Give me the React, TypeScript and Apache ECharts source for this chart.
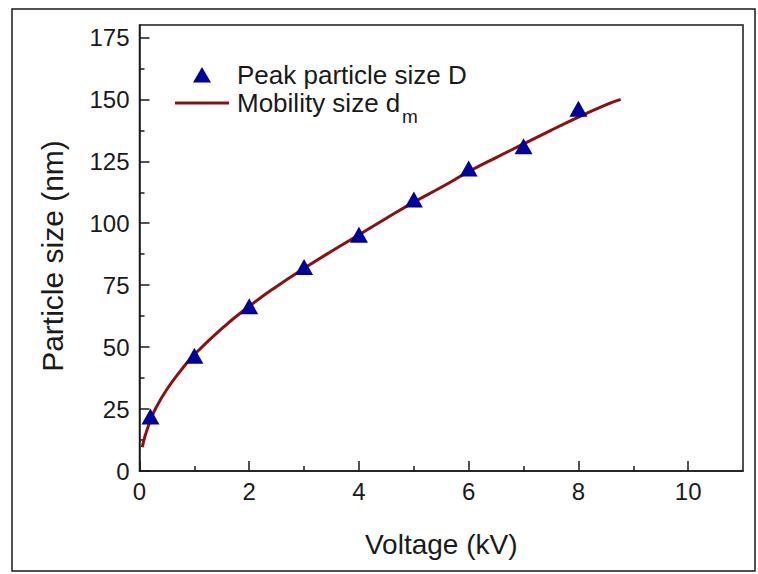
import React, { useEffect, useRef } from "react";
import * as echarts from "echarts";

// Measured points (triangles)
const voltage = [0.2, 1, 2, 3, 4, 5, 6, 7, 8];
const peakSize = [22, 46.5, 66.5, 82.3, 95.3, 109.6, 122.1, 131.1, 146.2];

// Mobility size curve
const curveVoltage = [0.05, 0.1, 0.2, 0.3, 0.5, 0.75, 1, 1.5, 2, 2.5, 3, 3.5, 4, 4.5, 5, 5.5, 6, 6.5, 7, 7.5, 8, 8.5, 8.77];
const mobilitySize = [9.6, 14, 20.5, 25.5, 33, 40.5, 47, 57.5, 66.5, 74.5, 81.8, 88.7, 95.3, 102, 108.5, 114.5, 120.8, 126.5, 132, 137.5, 142.8, 147.8, 150];

const xMajorTicks = [0, 2, 4, 6, 8, 10];
const xMinorTicks = [1, 3, 5, 7, 9];
const yMajorTicks = [0, 25, 50, 75, 100, 125, 150, 175];
const yMinorTicks = [12.5, 37.5, 62.5, 87.5, 112.5, 137.5, 162.5];

const FONT = "'Liberation Sans', Arial, sans-serif";
const INK = "#1a1a1a";
const BLUE = "#00009a";
const RED = "#8b1010";

export default function App() {
  const ref = useRef<HTMLDivElement>(null);
  useEffect(() => {
    if (!ref.current) return;
    const chart = echarts.init(ref.current, undefined, { renderer: "svg" });
    const axisLine = { show: true, lineStyle: { color: INK, width: 1.5 } };
    const tickStyle = { color: INK, width: 1.5 };
    chart.setOption({
      animation: false,
      backgroundColor: "#ffffff",
      grid: {
        left: 139.5,
        right: 15,
        top: 25,
        bottom: 103,
        show: true,
        borderColor: INK,
        borderWidth: 1.5,
        backgroundColor: "transparent",
      },
      xAxis: [
        {
          type: "value",
          min: 0,
          max: 11,
          position: "bottom",
          axisLine,
          splitLine: { show: false },
          axisTick: { show: true, inside: true, length: 10, lineStyle: tickStyle, customValues: xMajorTicks },
          axisLabel: { customValues: xMajorTicks, fontSize: 24, color: INK, fontFamily: FONT, margin: 8 },
          name: "Voltage (kV)",
          nameLocation: "middle",
          nameGap: 59,
          nameTextStyle: { fontSize: 28, color: INK, fontFamily: FONT },
        },
        {
          type: "value",
          min: 0,
          max: 11,
          position: "bottom",
          axisLine: { show: false },
          splitLine: { show: false },
          axisTick: { show: true, inside: true, length: 5, lineStyle: tickStyle, customValues: xMinorTicks },
          axisLabel: { show: false },
        },
      ],
      yAxis: [
        {
          type: "value",
          min: 0,
          max: 180,
          position: "left",
          axisLine,
          splitLine: { show: false },
          axisTick: { show: true, inside: true, length: 10, lineStyle: tickStyle, customValues: yMajorTicks },
          axisLabel: { customValues: yMajorTicks, fontSize: 24, color: INK, fontFamily: FONT, margin: 10 },
        },
        {
          type: "value",
          min: 0,
          max: 180,
          position: "left",
          axisLine: { show: false },
          splitLine: { show: false },
          axisTick: { show: true, inside: true, length: 5, lineStyle: tickStyle, customValues: yMinorTicks },
          axisLabel: { show: false },
        },
      ],
      series: [
        {
          name: "Mobility size dm",
          type: "line",
          data: curveVoltage.map((v, i) => [v, mobilitySize[i]]),
          showSymbol: false,
          smooth: true,
          lineStyle: { color: RED, width: 3 },
          z: 2,
        },
        {
          name: "Peak particle size D",
          type: "scatter",
          data: voltage.map((v, i) => [v, peakSize[i]]),
          symbol: "triangle",
          symbolSize: [18, 16],
          itemStyle: { color: BLUE, opacity: 1 },
          z: 3,
        },
      ],
      graphic: [
        {
          type: "rect",
          shape: { x: 12, y: 9, width: 743, height: 562 },
          style: { fill: "none", stroke: INK, lineWidth: 1.5 },
          silent: true,
        },
        {
          type: "text",
          x: 52,
          y: 256,
          rotation: Math.PI / 2,
          style: {
            text: "Particle size (nm)",
            fontSize: 30,
            fill: INK,
            fontFamily: FONT,
            align: "center",
            verticalAlign: "middle",
          },
        },
        // legend
        {
          type: "polygon",
          shape: { points: [[202, 67], [211, 82.5], [193, 82.5]] },
          style: { fill: BLUE },
        },
        {
          type: "text",
          x: 237,
          y: 75,
          style: { text: "Peak particle size D", fontSize: 26, fill: INK, fontFamily: FONT, verticalAlign: "middle" },
        },
        {
          type: "line",
          shape: { x1: 175, y1: 103, x2: 229, y2: 103 },
          style: { stroke: RED, lineWidth: 3 },
        },
        {
          type: "text",
          x: 237,
          y: 103,
          style: { text: "Mobility size d", fontSize: 26, fill: INK, fontFamily: FONT, verticalAlign: "middle" },
        },
        {
          type: "text",
          x: 402,
          y: 116,
          style: { text: "m", fontSize: 19, fill: INK, fontFamily: FONT, verticalAlign: "middle" },
        },
      ],
    });
    return () => chart.dispose();
  }, []);
  return (
    <div
      ref={ref}
      style={{ position: "absolute", left: 0, top: 0, width: 758, height: 574 }}
    />
  );
}
